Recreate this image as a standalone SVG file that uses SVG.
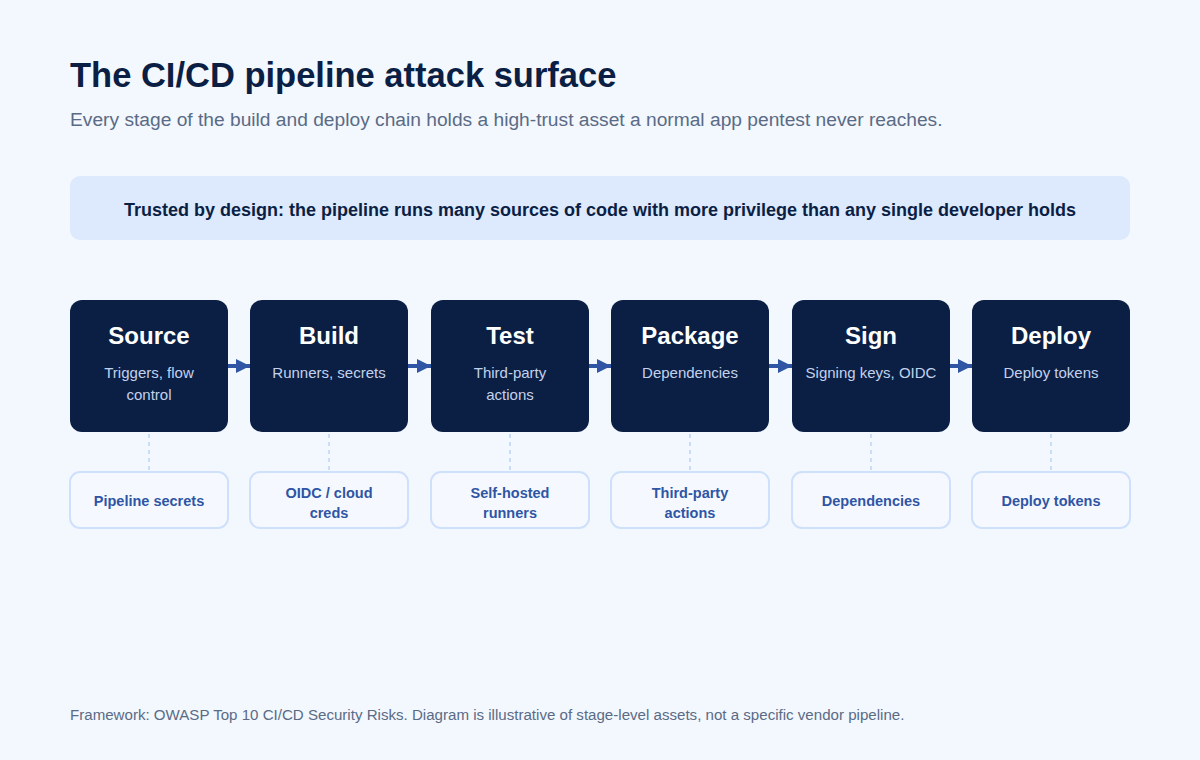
<svg xmlns="http://www.w3.org/2000/svg" width="1200" height="760" viewBox="0 0 1200 760">
<defs>
<style>
text{font-family:"Liberation Sans",Arial,sans-serif}
.title{font-size:34.5px;font-weight:700;fill:#0b1f45}
.sub{font-size:19.2px;fill:#5a6b85}
.banner{font-size:18px;font-weight:700;fill:#0b1f45}
.stage rect{fill:#0b1f45}
.sname{font-size:24px;font-weight:700;fill:#ffffff}
.sdesc{font-size:15px;fill:#c3d2ec}
.asset rect{fill:#f5f9ff;stroke:#cfe0fb;stroke-width:2}
.atext{font-size:14.5px;font-weight:700;fill:#2f55a4}
.flow{stroke:#2f55a4;stroke-width:4;fill:none}
.dash{stroke:#c9dcf8;stroke-width:2;stroke-dasharray:4 4;fill:none}
.foot{font-size:15.1px;fill:#5a6b85}
</style>
<marker id="ah" viewBox="0 0 10 10" refX="10" refY="5" markerWidth="3.5" markerHeight="3.5" markerUnits="strokeWidth" orient="auto"><path d="M0,0 L10,5 L0,10 z" fill="#2f55a4"/></marker>
</defs>
<rect width="1200" height="760" fill="#f3f7fe"/>
<text class="title" x="70" y="87">The CI/CD pipeline attack surface</text>
<text class="sub" x="70" y="126">Every stage of the build and deploy chain holds a high-trust asset a normal app pentest never reaches.</text>
<g id="banner">
<rect x="70" y="176" width="1060" height="64" rx="10" fill="#dde9fd"/>
<text class="banner" x="600" y="216" text-anchor="middle">Trusted by design: the pipeline runs many sources of code with more privilege than any single developer holds</text>
</g>
<g id="connectors">
<line class="flow" x1="228" y1="366" x2="250" y2="366" marker-end="url(#ah)"/>
<line class="flow" x1="408" y1="366" x2="431" y2="366" marker-end="url(#ah)"/>
<line class="flow" x1="589" y1="366" x2="611" y2="366" marker-end="url(#ah)"/>
<line class="flow" x1="769" y1="366" x2="792" y2="366" marker-end="url(#ah)"/>
<line class="flow" x1="950" y1="366" x2="972" y2="366" marker-end="url(#ah)"/>
<line class="dash" x1="149" y1="434" x2="149" y2="470"/>
<line class="dash" x1="329" y1="434" x2="329" y2="470"/>
<line class="dash" x1="510" y1="434" x2="510" y2="470"/>
<line class="dash" x1="690" y1="434" x2="690" y2="470"/>
<line class="dash" x1="871" y1="434" x2="871" y2="470"/>
<line class="dash" x1="1051" y1="434" x2="1051" y2="470"/>
</g>
<g id="stage-source" class="stage"><rect x="70" y="300" width="158" height="132" rx="12"/><text class="sname" x="149" y="344" text-anchor="middle">Source</text><text class="sdesc" x="149" y="378" text-anchor="middle">Triggers, flow</text><text class="sdesc" x="149" y="400" text-anchor="middle">control</text></g>
<g id="stage-build" class="stage"><rect x="250" y="300" width="158" height="132" rx="12"/><text class="sname" x="329" y="344" text-anchor="middle">Build</text><text class="sdesc" x="329" y="378" text-anchor="middle">Runners, secrets</text></g>
<g id="stage-test" class="stage"><rect x="431" y="300" width="158" height="132" rx="12"/><text class="sname" x="510" y="344" text-anchor="middle">Test</text><text class="sdesc" x="510" y="378" text-anchor="middle">Third-party</text><text class="sdesc" x="510" y="400" text-anchor="middle">actions</text></g>
<g id="stage-package" class="stage"><rect x="611" y="300" width="158" height="132" rx="12"/><text class="sname" x="690" y="344" text-anchor="middle">Package</text><text class="sdesc" x="690" y="378" text-anchor="middle">Dependencies</text></g>
<g id="stage-sign" class="stage"><rect x="792" y="300" width="158" height="132" rx="12"/><text class="sname" x="871" y="344" text-anchor="middle">Sign</text><text class="sdesc" x="871" y="378" text-anchor="middle">Signing keys, OIDC</text></g>
<g id="stage-deploy" class="stage"><rect x="972" y="300" width="158" height="132" rx="12"/><text class="sname" x="1051" y="344" text-anchor="middle">Deploy</text><text class="sdesc" x="1051" y="378" text-anchor="middle">Deploy tokens</text></g>
<g id="asset-source" class="asset"><rect x="70" y="472" width="158" height="56" rx="10"/><text class="atext" x="149" y="506" text-anchor="middle">Pipeline secrets</text></g>
<g id="asset-build" class="asset"><rect x="250" y="472" width="158" height="56" rx="10"/><text class="atext" x="329" y="498" text-anchor="middle">OIDC / cloud</text><text class="atext" x="329" y="518" text-anchor="middle">creds</text></g>
<g id="asset-test" class="asset"><rect x="431" y="472" width="158" height="56" rx="10"/><text class="atext" x="510" y="498" text-anchor="middle">Self-hosted</text><text class="atext" x="510" y="518" text-anchor="middle">runners</text></g>
<g id="asset-package" class="asset"><rect x="611" y="472" width="158" height="56" rx="10"/><text class="atext" x="690" y="498" text-anchor="middle">Third-party</text><text class="atext" x="690" y="518" text-anchor="middle">actions</text></g>
<g id="asset-sign" class="asset"><rect x="792" y="472" width="158" height="56" rx="10"/><text class="atext" x="871" y="506" text-anchor="middle">Dependencies</text></g>
<g id="asset-deploy" class="asset"><rect x="972" y="472" width="158" height="56" rx="10"/><text class="atext" x="1051" y="506" text-anchor="middle">Deploy tokens</text></g>
<text class="foot" x="70" y="720">Framework: OWASP Top 10 CI/CD Security Risks. Diagram is illustrative of stage-level assets, not a specific vendor pipeline.</text>
</svg>
